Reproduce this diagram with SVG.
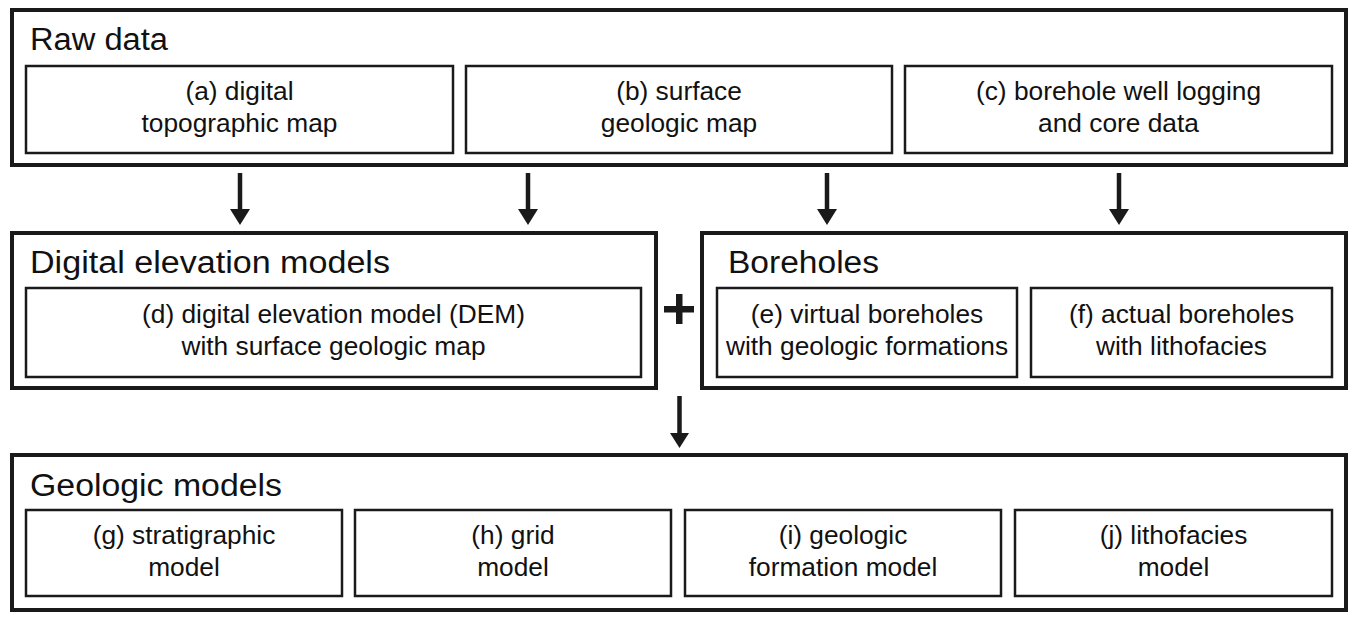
<svg xmlns="http://www.w3.org/2000/svg" width="1355" height="620" viewBox="0 0 1355 620">
<style>
.outer{fill:#fff;stroke:#1a1a1a;stroke-width:4}
.inner{fill:#fff;stroke:#1a1a1a;stroke-width:2.5}
.title{font-family:"Liberation Sans",Arial,sans-serif;font-size:31px;fill:#111}
.lbl{font-family:"Liberation Sans",Arial,sans-serif;font-size:26.3px;fill:#111;text-anchor:middle}
.shaft{stroke:#1a1a1a;stroke-width:4.5;fill:none}
.head{fill:#1a1a1a}
</style>
<rect width="1355" height="620" fill="#fff"/>
<g id="raw-data">
<rect class="outer" x="12" y="10" width="1334" height="155"/>
<text class="title" x="30" y="50" textLength="138" lengthAdjust="spacingAndGlyphs">Raw data</text>
</g>
<g id="node-a">
<rect class="inner" x="26" y="66" width="427" height="87"/>
<text class="lbl" x="239.5" y="100">(a) digital</text>
<text class="lbl" x="239.5" y="132">topographic map</text>
</g>
<g id="node-b">
<rect class="inner" x="466" y="66" width="426" height="87"/>
<text class="lbl" x="679" y="100">(b) surface</text>
<text class="lbl" x="679" y="132">geologic map</text>
</g>
<g id="node-c">
<rect class="inner" x="905" y="66" width="427" height="87"/>
<text class="lbl" x="1118.5" y="100">(c) borehole well logging</text>
<text class="lbl" x="1118.5" y="132">and core data</text>
</g>
<g id="dem-group">
<rect class="outer" x="12" y="233" width="644" height="155"/>
<text class="title" x="30" y="273" textLength="360" lengthAdjust="spacingAndGlyphs">Digital elevation models</text>
</g>
<g id="node-d">
<rect class="inner" x="26" y="288" width="615" height="89"/>
<text class="lbl" x="333.5" y="323">(d) digital elevation model (DEM)</text>
<text class="lbl" x="333.5" y="355">with surface geologic map</text>
</g>
<g id="boreholes-group">
<rect class="outer" x="702" y="233" width="644" height="155"/>
<text class="title" x="728" y="273" textLength="151" lengthAdjust="spacingAndGlyphs">Boreholes</text>
</g>
<g id="node-e">
<rect class="inner" x="717" y="288" width="300" height="89"/>
<text class="lbl" x="867" y="323">(e) virtual boreholes</text>
<text class="lbl" x="867" y="355">with geologic formations</text>
</g>
<g id="node-f">
<rect class="inner" x="1031" y="288" width="301" height="89"/>
<text class="lbl" x="1181.5" y="323">(f) actual boreholes</text>
<text class="lbl" x="1181.5" y="355">with lithofacies</text>
</g>
<g id="plus">
<rect class="head" x="664" y="306" width="30" height="6.5"/>
<rect class="head" x="676" y="294" width="6.5" height="30"/>
</g>
<g id="geologic-models">
<rect class="outer" x="12" y="455" width="1334" height="155"/>
<text class="title" x="30" y="496" textLength="252" lengthAdjust="spacingAndGlyphs">Geologic models</text>
</g>
<g id="node-g">
<rect class="inner" x="26" y="510" width="316" height="86"/>
<text class="lbl" x="184" y="544">(g) stratigraphic</text>
<text class="lbl" x="184" y="576">model</text>
</g>
<g id="node-h">
<rect class="inner" x="355" y="510" width="316" height="86"/>
<text class="lbl" x="513" y="544">(h) grid</text>
<text class="lbl" x="513" y="576">model</text>
</g>
<g id="node-i">
<rect class="inner" x="685" y="510" width="316" height="86"/>
<text class="lbl" x="843" y="544">(i) geologic</text>
<text class="lbl" x="843" y="576">formation model</text>
</g>
<g id="node-j">
<rect class="inner" x="1015" y="510" width="317" height="86"/>
<text class="lbl" x="1173.5" y="544">(j) lithofacies</text>
<text class="lbl" x="1173.5" y="576">model</text>
</g>
<g id="connectors">
<line class="shaft" x1="240" y1="173" x2="240" y2="211"/>
<polygon class="head" points="230,209 250,209 240,225"/>
<line class="shaft" x1="528" y1="173" x2="528" y2="211"/>
<polygon class="head" points="518,209 538,209 528,225"/>
<line class="shaft" x1="827" y1="173" x2="827" y2="211"/>
<polygon class="head" points="817,209 837,209 827,225"/>
<line class="shaft" x1="1119" y1="173" x2="1119" y2="211"/>
<polygon class="head" points="1109,209 1129,209 1119,225"/>
<line class="shaft" x1="679.5" y1="396" x2="679.5" y2="435"/>
<polygon class="head" points="670,433 689,433 679.5,448"/>
</g>
</svg>
